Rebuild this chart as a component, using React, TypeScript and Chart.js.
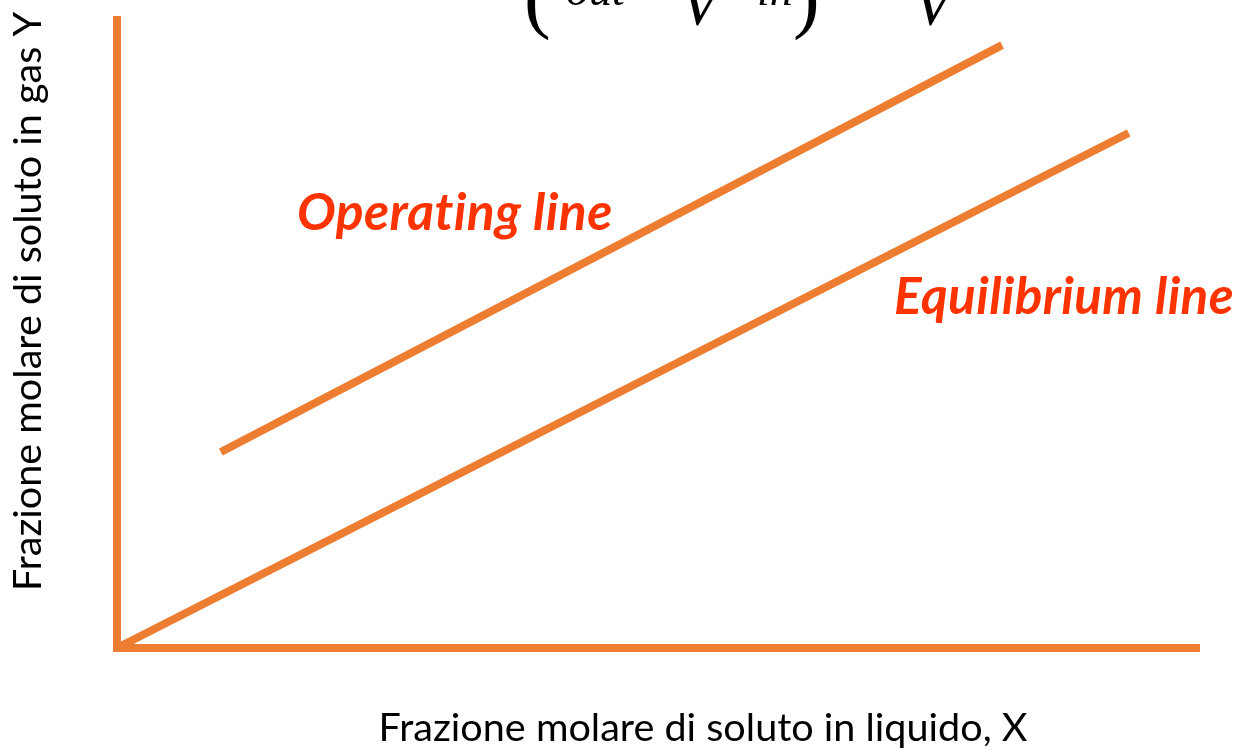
import React, { useEffect, useRef } from "react";
import { Chart, registerables } from "chart.js";

Chart.register(...registerables);

// Data (x: liquid mole fraction, y: gas mole fraction), arbitrary 0..100 units
const operatingX = [9.6, 81.8];
const operatingY = [31.2, 96.0];
const equilibriumX = [0, 93.5];
const equilibriumY = [0, 82.0];

const seriesNames = ["Operating line", "Equilibrium line"];
const xTitle = "Frazione molare di soluto in liquido, X";
const yTitle = "Frazione molare di soluto in gas Y";

const ORANGE = "#ED7D31";
const RED = "#FF3300";

function fitFont(ctx: CanvasRenderingContext2D, text: string, style: string, family: string, target: number) {
  ctx.font = `${style} 100px ${family}`;
  const w = ctx.measureText(text).width;
  const size = (100 * target) / w;
  return `${style} ${size.toFixed(2)}px ${family}`;
}

const overlayPlugin = {
  id: "overlay",
  afterDraw(chart: any) {
    const ctx: any = chart.ctx;
    ctx.save();
    // series labels (small letter spacing disables the "ti" ligature)
    ctx.fillStyle = RED;
    ctx.textBaseline = "alphabetic";
    ctx.textAlign = "left";
    ctx.letterSpacing = "0.4px";
    ctx.font = fitFont(ctx, seriesNames[0], "italic bold", "Lato", 313);
    ctx.fillText(seriesNames[0], 297, 230);
    ctx.font = fitFont(ctx, seriesNames[1], "italic bold", "Lato", 337);
    ctx.fillText(seriesNames[1], 894, 314);
    ctx.letterSpacing = "0px";

    // axis titles
    ctx.fillStyle = "#000";
    const titleFont = fitFont(ctx, xTitle, "normal", "Lato", 649);
    ctx.font = titleFont;
    ctx.textAlign = "center";
    ctx.fillText(xTitle, 703, 741);

    ctx.save();
    ctx.translate(41, 591);
    ctx.rotate(-Math.PI / 2);
    ctx.textAlign = "left";
    ctx.font = titleFont;
    ctx.fillText(yTitle, 0, 0);
    ctx.restore();

    // cropped formula fragment at top
    ctx.fillStyle = "#000";
    ctx.textAlign = "left";
    ctx.font = 'normal 80px "Liberation Serif"';
    ctx.fillText("(", 524, 23);
    ctx.fillText(")", 793, 23);
    ctx.font = 'italic 46px "Liberation Serif"';
    ctx.fillText("out", 566, 5);
    ctx.fillText("in", 757, 5);
    ctx.font = 'italic 64px "Liberation Serif"';
    ctx.fillText("V", 680, 25);
    ctx.fillText("V", 913, 25);
    ctx.restore();
  },
};

export default function App() {
  const ref = useRef<HTMLCanvasElement>(null);
  useEffect(() => {
    document.body.style.margin = "0";
    const canvas = ref.current!;
    const chart = new Chart(canvas, {
      type: "scatter",
      data: {
        datasets: [
          {
            label: seriesNames[0],
            data: operatingX.map((x, i) => ({ x, y: operatingY[i] })),
            showLine: true,
            borderColor: ORANGE,
            backgroundColor: ORANGE,
            borderWidth: 8,
            pointRadius: 0,
            clip: false as any,
          },
          {
            label: seriesNames[1],
            data: equilibriumX.map((x, i) => ({ x, y: equilibriumY[i] })),
            showLine: true,
            borderColor: ORANGE,
            backgroundColor: ORANGE,
            borderWidth: 8,
            pointRadius: 0,
            clip: false as any,
          },
        ],
      },
      options: {
        responsive: false,
        animation: false,
        layout: { padding: { left: 117, right: 37, top: 20, bottom: 102 } },
        plugins: { legend: { display: false }, tooltip: { enabled: false } },
        scales: {
          x: {
            type: "linear",
            min: 0,
            max: 100,
            ticks: { display: false },
            grid: { display: false, drawTicks: false },
            border: { display: true, color: ORANGE, width: 8 },
          },
          y: {
            type: "linear",
            min: 0,
            max: 100,
            ticks: { display: false },
            grid: { display: false, drawTicks: false },
            border: { display: true, color: ORANGE, width: 8 },
          },
        },
      },
      plugins: [overlayPlugin],
    });
    return () => chart.destroy();
  }, []);
  return <canvas ref={ref} width={1236} height={750} style={{ display: "block" }} />;
}
